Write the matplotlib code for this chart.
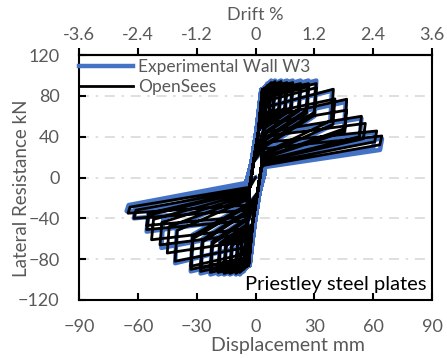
import matplotlib
matplotlib.use("Agg")
import matplotlib.pyplot as plt

plt.rcParams['font.family'] = ['Lato', 'DejaVu Sans']

GRAY = '#595959'
BLUE = '#4472C4'

# ---- OpenSees model: one entry per cycle (mm, kN) ----
os_pos_peak_d = [4, 4, 6, 6, 8, 8, 10, 10, 13, 13, 16, 16, 19, 19, 23, 23, 27, 27, 31, 31,
                 39.7, 40.5, 46.5, 46.5, 54, 56, 61.8, 64.4]
os_pos_peak_f = [80, 76, 90, 86, 93, 90, 94, 91, 94, 91, 93, 90, 93, 90, 92, 89, 92, 89, 92, 88,
                 86.5, 77, 76.7, 66, 60, 53, 45.6, 40.7]
os_pos_start_f = [70, 66, 80, 76, 85, 81, 86, 82, 86, 82, 86, 81, 85, 80, 84, 79, 82, 77, 80, 74,
                  68, 62, 58, 52, 44, 40, 34, 28]
os_pos_unload_f = [52, 50, 62, 60, 65, 63, 67, 65, 68, 66, 68, 66, 68, 66, 67, 65, 66, 63, 64, 61,
                   56, 52, 48, 45, 40, 38, 35, 32]
os_pos_end_f = [50, 48, 58, 56, 60, 58, 60, 58, 57, 55, 54, 52, 50, 48, 44, 42, 38, 36, 32, 30,
                24, 22, 20, 19, 17, 16, 14, 12]

os_neg_peak_d = [-4, -4, -6, -6, -8, -8, -10, -10, -13, -13, -16, -16, -19, -19, -23, -23, -28, -28,
                 -33, -33, -41, -45, -48.7, -53, -55.5, -55.5, -62, -65]
os_neg_peak_f = [-80, -76, -90, -86, -93, -90, -94, -91, -94, -91, -94, -91, -93, -90, -93, -90, -92, -89,
                 -90, -87, -82, -74, -66, -61, -51, -47, -40, -35]
os_neg_start_f = [-70, -66, -80, -76, -85, -81, -86, -82, -86, -82, -86, -82, -85, -81, -84, -80, -82, -78,
                  -78, -74, -68, -62, -55, -50, -42, -38, -32, -27]
os_neg_unload_f = [-50, -48, -60, -58, -64, -62, -66, -64, -67, -65, -67, -65, -66, -64, -65, -63, -63, -61,
                   -60, -57, -52, -48, -44, -41, -37, -35, -32, -29]
os_neg_end_f = [-48, -46, -56, -54, -59, -57, -59, -57, -56, -54, -53, -51, -48, -46, -42, -40, -35, -33,
                -29, -27, -22, -20, -18, -16, -14, -13, -12, -10]

# pinching branch through the origin
os_up_d = [-3.0, -1.0, 1.5]
os_up_f = [-10, 15, 45]
os_down_d = [3.0, 1.0, -1.5]
os_down_f = [10, -15, -45]

# ---- Experimental wall W3 ----
ex_pos_peak_d = [4, 6, 8, 10, 13, 16, 19, 23, 27, 31, 39, 46, 54, 61, 64.5]
ex_pos_peak_f = [82, 92, 95, 95, 95, 95, 95, 95, 95, 95, 85, 74, 58, 44, 38]
ex_pos_start_f = [70, 80, 85, 86, 86, 86, 85, 84, 82, 80, 68, 56, 42, 30, 25]
ex_pos_unload_f = [48, 58, 62, 64, 65, 65, 64, 63, 62, 60, 50, 42, 34, 29, 27]
ex_pos_end_f = [46, 54, 56, 57, 54, 50, 46, 40, 34, 28, 18, 15, 13, 11, 10]

ex_neg_peak_d = [-4, -6, -8, -10, -13, -16, -19, -23, -28, -33, -41, -48, -55.5, -62, -65.7]
ex_neg_peak_f = [-82, -92, -95, -95, -95, -95, -95, -95, -94, -92, -84, -69, -53, -40, -33]
ex_neg_start_f = [-70, -80, -85, -86, -86, -86, -85, -84, -82, -78, -66, -53, -40, -30, -25]
ex_neg_unload_f = [-48, -58, -62, -63, -64, -64, -63, -62, -60, -56, -48, -40, -33, -29, -27]
ex_neg_end_f = [-46, -54, -56, -56, -53, -49, -45, -39, -32, -26, -16, -12, -9, -6, -5]

ex_up_d = [-4.5, -2.0, 0.5]
ex_up_f = [-4, 14, 45]
ex_down_d = [4.5, 2.0, -0.5]
ex_down_f = [4, -14, -45]

x_ticks = [-90, -60, -30, 0, 30, 60, 90]
y_ticks = [-120, -80, -40, 0, 40, 80, 120]
drift_ticks = [-3.6, -2.4, -1.2, 0, 1.2, 2.4, 3.6]
drift_labels = ['-3.6', '-2.4', '-1.2', '0', '1.2', '2.4', '3.6']
mm_per_percent = 25.0  # displacement in mm for 1 % drift


def hysteresis_path(pd_, pf, psf, puf, pef, nd, nf, nsf, nuf, nef,
                    up_d, up_f, down_d, down_f, start_d, end_d, drop_d):
    d, f = [0.0], [0.0]
    for k in range(len(pd_)):
        # reload through the pinched zone, then towards the positive peak,
        # unload and return along the lower branch
        for ud, uf in zip(up_d, up_f):
            if uf < psf[k]:
                d.append(ud)
                f.append(uf)
        d += [start_d, pd_[k], pd_[k] - drop_d, end_d]
        f += [psf[k], pf[k], puf[k], pef[k]]
        # same for the negative direction
        for dd, df in zip(down_d, down_f):
            if df > nsf[k]:
                d.append(dd)
                f.append(df)
        d += [-start_d, nd[k], nd[k] + drop_d, -end_d]
        f += [nsf[k], nf[k], nuf[k], nef[k]]
    return d, f


ex_d, ex_f = hysteresis_path(ex_pos_peak_d, ex_pos_peak_f, ex_pos_start_f, ex_pos_unload_f, ex_pos_end_f,
                             ex_neg_peak_d, ex_neg_peak_f, ex_neg_start_f, ex_neg_unload_f, ex_neg_end_f,
                             ex_up_d, ex_up_f, ex_down_d, ex_down_f, 3.0, 4.0, 1.0)
os_d, os_f = hysteresis_path(os_pos_peak_d, os_pos_peak_f, os_pos_start_f, os_pos_unload_f, os_pos_end_f,
                             os_neg_peak_d, os_neg_peak_f, os_neg_start_f, os_neg_unload_f, os_neg_end_f,
                             os_up_d, os_up_f, os_down_d, os_down_f, 3.5, 4.5, 1.0)

fig = plt.figure(figsize=(4.47, 3.58), dpi=100)
ax = fig.add_axes([79 / 447, 1 - 300 / 358, 353 / 447, 245 / 358])

for yv in [-80, -40, 0, 40, 80]:
    ax.axhline(yv, color='#d9d9d9', lw=1.2, ls=(0, (6, 4, 1.5, 4)), zorder=0)

ax.plot(ex_d, ex_f, color=BLUE, lw=3.2, solid_joinstyle='round', label='Experimental Wall W3', zorder=2)
ax.plot(os_d, os_f, color='black', lw=2.0, solid_joinstyle='round', label='OpenSees', zorder=3)

ax.set_xlim(-90, 90)
ax.set_ylim(-120, 120)
ax.set_xticks(x_ticks)
ax.set_yticks(y_ticks)
ax.tick_params(axis='both', direction='in', length=5, width=1.5, colors='black',
               labelcolor=GRAY, labelsize=13)
ax.tick_params(axis='x', pad=14)
ax.tick_params(axis='y', pad=14)
for s in ax.spines.values():
    s.set_linewidth(1.5)

sec = ax.secondary_xaxis('top', functions=(lambda x: x / mm_per_percent,
                                           lambda p: p * mm_per_percent))
sec.set_xticks(drift_ticks)
sec.set_xticklabels(drift_labels)
sec.tick_params(direction='out', length=5, width=1.5, labelcolor=GRAY, labelsize=13, pad=3.5)
sec.spines['top'].set_linewidth(1.5)

fig.text(255 / 447, 1 - 15 / 358, 'Drift %', ha='center', va='center', color=GRAY, fontsize=13)
fig.text(288 / 447, 1 - 345 / 358, 'Displacement mm', ha='center', va='center', color=GRAY, fontsize=14)
fig.text(22 / 447, 1 - 188 / 358, 'Lateral Resistance kN', ha='center', va='center', rotation=90,
         color=GRAY, fontsize=13.5)

ax.text(0.985, 0.03, 'Priestley steel plates', transform=ax.transAxes, ha='right', va='bottom',
        color='black', fontsize=14.5)

leg = ax.legend(loc='upper left', bbox_to_anchor=(0.0, 0.985), frameon=False, fontsize=12.5,
                handlelength=3.1, handletextpad=0.3, labelspacing=0.25, borderaxespad=0.0,
                borderpad=0.0, labelcolor=GRAY)

fig.savefig('out.png', dpi=100)
